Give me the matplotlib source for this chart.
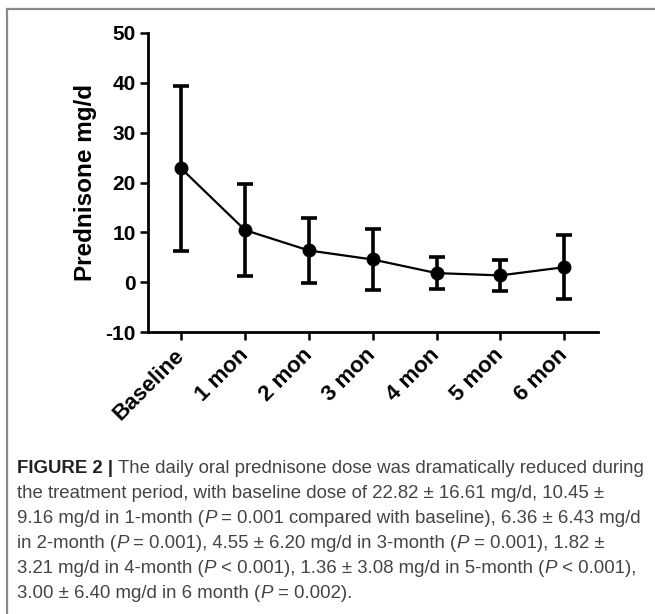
import matplotlib
matplotlib.use("Agg")
import matplotlib.pyplot as plt
from matplotlib.lines import Line2D

categories = ["Baseline", "1 mon", "2 mon", "3 mon", "4 mon", "5 mon", "6 mon"]
means = [22.82, 10.45, 6.36, 4.55, 1.82, 1.36, 3.00]
sds = [16.61, 9.16, 6.43, 6.20, 3.21, 3.08, 6.40]
yticks = [-10, 0, 10, 20, 30, 40, 50]

caption_lines = [
    [("FIGURE 2 | ", "bold"), ("The daily oral prednisone dose was dramatically reduced during", "normal")],
    [("the treatment period, with baseline dose of 22.82 \u00b1 16.61 mg/d, 10.45 \u00b1", "normal")],
    [("9.16 mg/d in 1-month (", "normal"), ("P", "italic"), (" = 0.001 compared with baseline), 6.36 \u00b1 6.43 mg/d", "normal")],
    [("in 2-month (", "normal"), ("P", "italic"), (" = 0.001), 4.55 \u00b1 6.20 mg/d in 3-month (", "normal"), ("P", "italic"), (" = 0.001), 1.82 \u00b1", "normal")],
    [("3.21 mg/d in 4-month (", "normal"), ("P", "italic"), (" < 0.001), 1.36 \u00b1 3.08 mg/d in 5-month (", "normal"), ("P", "italic"), (" < 0.001),", "normal")],
    [("3.00 \u00b1 6.40 mg/d in 6 month (", "normal"), ("P", "italic"), (" = 0.002).", "normal")],
]

plt.rcParams['font.family'] = ['Liberation Sans', 'DejaVu Sans']
plt.rcParams['axes.unicode_minus'] = False

W, H = 655, 614
fig = plt.figure(figsize=(W / 100, H / 100), dpi=100)
ax = fig.add_axes([148 / W, 1 - 332 / H, (598 - 148) / W, (332 - 33) / H])

x = list(range(len(categories)))
ax.plot(x, means, color='black', lw=1.6, zorder=2)
ax.errorbar(x, means, yerr=sds, fmt='o', color='black', ms=9, elinewidth=2.6,
            capsize=5.5, capthick=2.6, zorder=3)

ax.set_xlim(-0.52, 6.53)
ax.set_ylim(-10, 50)
ax.set_yticks(yticks)
ax.set_xticks(x)
ax.set_xticklabels(categories, rotation=45, ha='right', va='center',
                   rotation_mode='anchor', fontsize=16, fontweight='bold')
for lab in ax.get_yticklabels():
    lab.set_fontsize(15)
    lab.set_fontweight('bold')
ax.tick_params(axis='both', direction='out', length=5.5, width=1.8, pad=3.5, color='black')
ax.tick_params(axis='x', pad=9)
for s in ['top', 'right']:
    ax.spines[s].set_visible(False)
for s in ['left', 'bottom']:
    ax.spines[s].set_linewidth(2.0)
ax.set_ylabel("Prednisone mg/d", fontsize=17.5, fontweight='bold', labelpad=6)

# border lines
fig.add_artist(Line2D([7 / W, 7 / W], [0, 1 - 9 / H], transform=fig.transFigure, color='#8a8a8a', lw=1.6))
fig.add_artist(Line2D([7 / W, 1], [1 - 9 / H, 1 - 9 / H], transform=fig.transFigure, color='#8a8a8a', lw=1.6))

# caption
fig.canvas.draw()
renderer = fig.canvas.get_renderer()
fs = 13.4
ys = [473, 498, 523, 548, 573, 598]
for line, yb in zip(caption_lines, ys):
    xpos = 17
    for txt, style in line:
        t = fig.text(xpos / W, 1 - yb / H, txt, fontsize=fs,
                     color='#222222' if style == 'bold' else '#444444',
                     fontweight='bold' if style == 'bold' else 'normal',
                     fontstyle='italic' if style == 'italic' else 'normal',
                     ha='left', va='baseline')
        bb = t.get_window_extent(renderer)
        xpos += bb.width
fig.savefig("out.png", dpi=100)
